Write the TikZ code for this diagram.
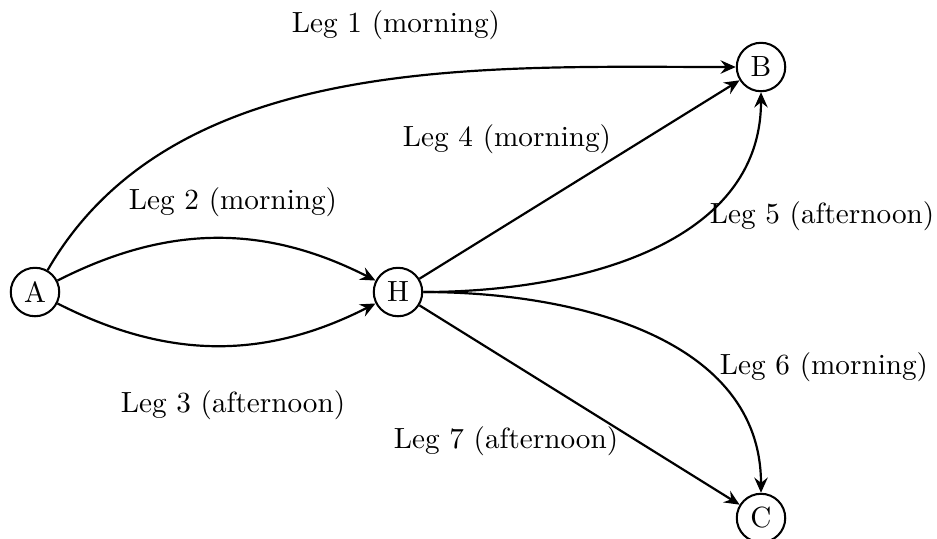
\documentclass[tikz,border=0pt]{standalone}
\usetikzlibrary{arrows.meta}
\begin{document}
\begin{tikzpicture}[x=0.3425pt, y=-0.3425pt,
    stop/.style={draw, circle, line width=0.7pt, minimum size=16.6pt, inner sep=0pt},
    leg/.style={-{Stealth[length=5.2pt,width=4.6pt,inset=1.8pt]}, line width=0.75pt},
    lbl/.style={inner sep=0pt}]
  \useasboundingbox (0,0) rectangle (937,538);

  % stops
  \node[stop] (A) at (35,292) {A};
  \node[stop] (H) at (398,292) {H};
  \node[stop] (B) at (761,67) {B};
  \node[stop] (C) at (761,518) {C};

  % legs
  \draw[leg] (A) to[out=60, in=180, looseness=0.9] (B);
  \draw[leg] (A) to[bend left=27] (H);
  \draw[leg] (A) to[bend right=27] (H);
  \draw[leg] (H) -- (B);
  \draw[leg] (H.east) to[out=0, in=-90] (B.south);
  \draw[leg] (H.east) to[out=0, in=90] (C.north);
  \draw[leg] (H) -- (C);

  % labels
  \node[lbl] (l1) at (396,25) {Leg 1 (morning)};
  \node[lbl] (l2) at (233,202) {Leg 2 (morning)};
  \node[lbl] (l3) at (233,405) {Leg 3 (afternoon)};
  \node[lbl] (l4) at (507,139) {Leg 4 (morning)};
  \node[lbl] (l5) at (822,216) {Leg 5 (afternoon)};
  \node[lbl] (l6) at (824,367) {Leg 6 (morning)};
  \node[lbl] (l7) at (506,441) {Leg 7 (afternoon)};
\end{tikzpicture}
\end{document}
